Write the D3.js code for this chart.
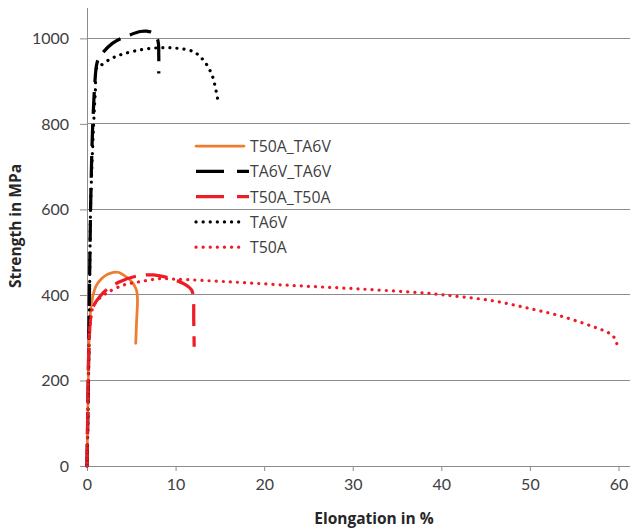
<!DOCTYPE html>
<html><head><meta charset="utf-8">
<script src="https://cdn.jsdelivr.net/npm/d3@7"></script>
<style>body{margin:0;background:#fff}svg{display:block}</style>
</head><body>
<svg id="c" width="633" height="529"></svg>
<script>
const seriesNames = ["T50A_TA6V","TA6V_TA6V","T50A_T50A","TA6V","T50A"];
// [elongation %, strength MPa]
const t50aTa6v = [[0,0],[0.15,200],[0.3,330],[0.5,380],[1,420],[1.5,435],[2.2,447],[3,453],[3.5,453],[4.1,447],[4.7,438],[5.2,427],[5.6,410],[5.7,390],[5.6,340],[5.5,287]];
const ta6vTa6v = [[0,0],[0.15,200],[0.3,450],[0.45,650],[0.65,800],[0.9,900],[1.1,940],[1.4,956],[2.9,989],[4.85,1008],[6.0,1016],[6.7,1017],[7.5,1012],[8.0,995],[8.1,960],[8.1,918]];
const t50aT50a = [[0,0],[0.1,150],[0.25,300],[0.5,360],[0.7,373],[1.4,395],[2.2,412],[3.7,431],[5.6,444],[7.5,447],[8.6,443],[9.7,437],[11.2,423],[11.8,412],[12,395],[12.05,340],[12.1,279]];
const ta6v = [[0,0],[0.1,100],[0.2,250],[0.3,420],[0.4,600],[0.55,700],[0.75,800],[0.95,880],[1.1,931],[1.5,936],[2.5,950],[3.7,961],[6,973],[8.2,978],[10.1,977],[12,969],[13.1,950],[14.1,915],[14.8,852]];
const t50a = [[0,0],[0.1,150],[0.25,300],[0.5,355],[0.7,373],[1.3,390],[2.2,404],[4.1,423],[6,431],[8.2,438],[10,437],[15.8,431],[23.3,422],[30.8,414],[38.3,404],[42.1,396],[45.9,386],[49.6,370],[53.4,351],[57.1,326],[59,310],[59.6,298],[59.9,278]];
const xTicks = [0,10,20,30,40,50,60];
const yTicks = [0,200,400,600,800,1000];

const styles = [
  {color:"#ED7D31", dash:null, cap:"round", w:2.75},
  {color:"#000000", dash:"22,10", cap:"butt", w:3.25},
  {color:"#EE1C25", dash:"22,10", cap:"butt", w:3.25},
  {color:"#000000", dash:"0.1,7", cap:"round", w:3.2},
  {color:"#EE1C25", dash:"0.1,7", cap:"round", w:3.2}
];
const data = [t50aTa6v, ta6vTa6v, t50aT50a, ta6v, t50a];

const svg = d3.select("#c");
const L = 87, R = 630, T = 8, B = 466;
const x = d3.scaleLinear().domain([0, 61.3]).range([L, R]);
const y = d3.scaleLinear().domain([0, 1071]).range([B, T]);
const font = "Lato, 'Open Sans', sans-serif";
const font2 = "'Open Sans', sans-serif";

// gridlines
svg.append("g").selectAll("line").data(yTicks.filter(d=>d>0)).join("line")
  .attr("x1", L).attr("x2", R).attr("y1", d=>y(d)).attr("y2", d=>y(d))
  .attr("stroke", "#8c8c8c").attr("stroke-width", 1).attr("shape-rendering","crispEdges");

// axes
const xAxis = d3.axisBottom(x).tickValues(xTicks).tickSize(5).tickPadding(8).tickFormat(d3.format("d"));
const gx = svg.append("g").attr("transform", `translate(0,${B})`).call(xAxis);
gx.select(".domain").attr("stroke", "#8c8c8c").attr("d", `M${L},0.5H${R}`);
gx.selectAll(".tick line").attr("stroke", "#8c8c8c");
gx.selectAll(".tick text").attr("font-family", font).attr("font-size", 16).attr("fill", "#404040");

const yAxis = d3.axisLeft(y).tickValues(yTicks).tickSize(7).tickPadding(11).tickFormat(d3.format("d"));
const gy = svg.append("g").attr("transform", `translate(${L},0)`).call(yAxis);
gy.select(".domain").attr("stroke", "#8c8c8c").attr("d", `M0.5,${T}V${B}`);
gy.selectAll(".tick line").attr("stroke", "#8c8c8c");
gy.selectAll(".tick text").attr("font-family", font).attr("font-size", 16).attr("fill", "#404040");

// axis titles
svg.append("text").attr("x", 374).attr("y", 524).attr("text-anchor","middle")
  .attr("font-family", font2).attr("font-weight","bold").attr("font-size", 15.5).attr("fill","#262626")
  .text("Elongation in %");
svg.append("text").attr("transform","translate(21,226) rotate(-90)").attr("text-anchor","middle")
  .attr("font-family", font2).attr("font-weight","bold").attr("font-size", 15.5).attr("fill","#262626")
  .text("Strength in MPa");

// lines
const line = d3.line().x(d=>x(d[0])).y(d=>y(d[1])).curve(d3.curveCatmullRom.alpha(0.5));
const plot = svg.append("g");
data.forEach((ds, i) => {
  const s = styles[i];
  plot.append("path").datum(ds).attr("d", line).attr("fill","none")
    .attr("stroke", s.color).attr("stroke-width", s.w)
    .attr("stroke-dasharray", s.dash).attr("stroke-linecap", s.cap).attr("stroke-linejoin","round");
});

// legend
const lg = svg.append("g").attr("transform","translate(196,146)");
seriesNames.forEach((n, i) => {
  const s = styles[i];
  const yy = i * 25.3;
  lg.append("line").attr("x1", 0).attr("x2", s.dash === "22,10" ? 53 : 48).attr("y1", yy).attr("y2", yy)
    .attr("stroke", s.color).attr("stroke-width", s.w)
    .attr("stroke-dasharray", s.dash === "22,10" ? "28,13" : s.dash).attr("stroke-linecap", s.cap);
  lg.append("text").attr("x", 54).attr("y", yy + 6).attr("font-family", font2).attr("font-size", 15.8)
    .attr("fill", "#404040").text(n);
});
</script>
</body></html>
